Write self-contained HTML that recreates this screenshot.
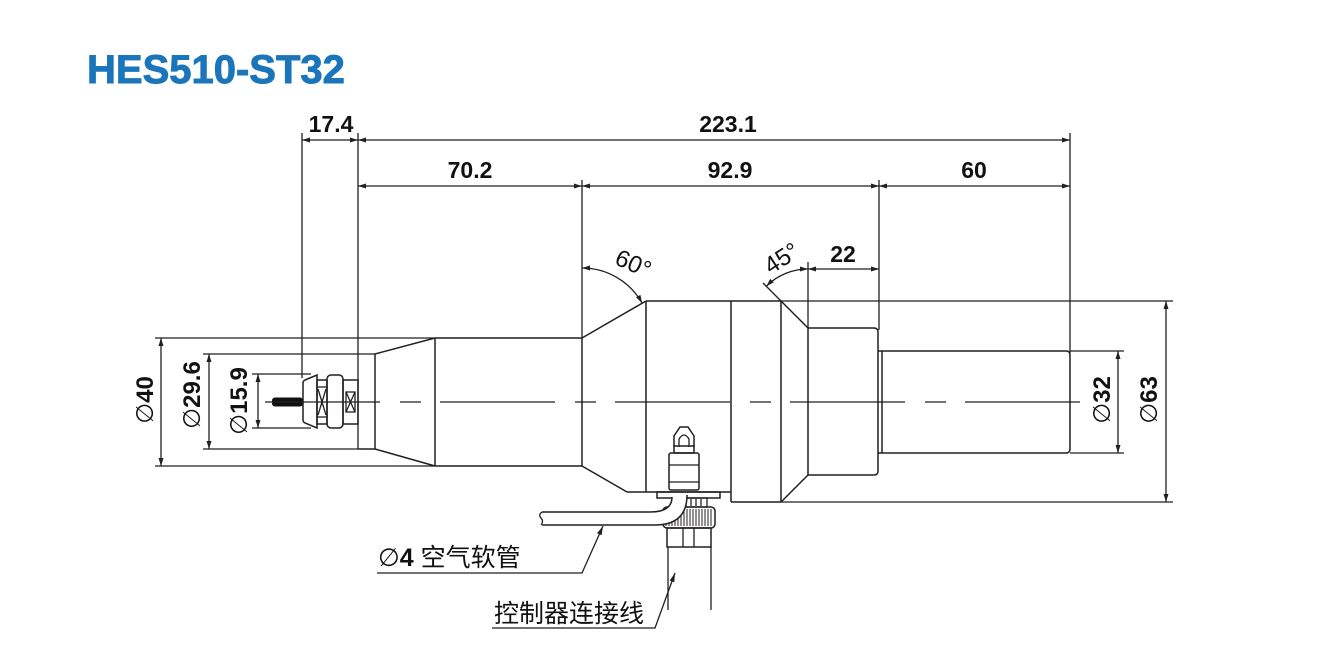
<!DOCTYPE html>
<html>
<head>
<meta charset="utf-8">
<style>
  html,body{margin:0;padding:0;background:#fff;}
  svg{display:block;}
  .l{stroke:#231f20;stroke-width:1.3;fill:none;}
  .o{stroke:#231f20;stroke-width:1.5;fill:none;}
  .a{fill:#231f20;stroke:none;}
  .t{font-family:"Liberation Sans",Arial,sans-serif;font-weight:bold;font-size:23px;fill:#111;}
  .r{font-family:"Liberation Sans",Arial,sans-serif;font-weight:bold;font-size:24px;fill:#111;}
  .ang{font-family:"Liberation Sans",Arial,sans-serif;font-size:24px;fill:#111;}
  .cjk{font-family:"Liberation Sans","Noto Sans CJK SC",sans-serif;font-size:25px;fill:#111;}
  .sym{font-family:"DejaVu Sans",sans-serif;font-weight:normal;}
</style>
</head>
<body>
<svg width="1320" height="660" viewBox="0 0 1320 660" xmlns="http://www.w3.org/2000/svg">
  <rect x="0" y="0" width="1320" height="660" fill="#fff"/>

  <!-- Title -->
  <text x="87" y="83" font-family="Liberation Sans, Arial, sans-serif" font-weight="bold" font-size="40" fill="#1b75bb" stroke="#1b75bb" stroke-width="0.9">HES510-ST32</text>

  <!-- ===== Top dimensions ===== -->
  <line class="l" x1="302" y1="133" x2="302" y2="378"/>
  <line class="l" x1="358" y1="133" x2="358" y2="449"/>
  <line class="l" x1="1070" y1="133" x2="1070" y2="353"/>
  <line class="l" x1="582" y1="180" x2="582" y2="338"/>
  <line class="l" x1="879" y1="180" x2="879" y2="330"/>
  <line class="l" x1="808" y1="262" x2="808" y2="328"/>

  <line class="l" x1="302" y1="140" x2="1070" y2="140"/>
  <polygon class="a" points="302,140 310,137.5 310,142.5"/>
  <polygon class="a" points="358,140 350,137.5 350,142.5"/>
  <polygon class="a" points="358,140 366,137.5 366,142.5"/>
  <polygon class="a" points="1070,140 1062,137.5 1062,142.5"/>
  <text class="t" x="331" y="132" text-anchor="middle">17.4</text>
  <text class="t" x="728" y="132" text-anchor="middle">223.1</text>

  <line class="l" x1="358" y1="186" x2="1070" y2="186"/>
  <polygon class="a" points="358,186 366,183.5 366,188.5"/>
  <polygon class="a" points="582,186 574,183.5 574,188.5"/>
  <polygon class="a" points="582,186 590,183.5 590,188.5"/>
  <polygon class="a" points="879,186 871,183.5 871,188.5"/>
  <polygon class="a" points="879,186 887,183.5 887,188.5"/>
  <polygon class="a" points="1070,186 1062,183.5 1062,188.5"/>
  <text class="t" x="470" y="178" text-anchor="middle">70.2</text>
  <text class="t" x="730" y="178" text-anchor="middle">92.9</text>
  <text class="t" x="974" y="178" text-anchor="middle">60</text>

  <line class="l" x1="808" y1="269" x2="879" y2="269"/>
  <polygon class="a" points="808,269 816,266.5 816,271.5"/>
  <polygon class="a" points="879,269 871,266.5 871,271.5"/>
  <text class="t" x="843" y="262" text-anchor="middle">22</text>

  <path class="l" d="M582,268 A69,69 0 0 1 642.1,303.1"/>
  <polygon class="a" points="582,268 590,265.5 590,270.5"/>
  <polygon class="a" points="642.1,303.1 640.4,294.9 636.0,297.3"/>
  <text class="ang" x="0" y="0" text-anchor="middle" transform="translate(630,271) rotate(24)">60°</text>

  <line class="l" x1="781" y1="301" x2="763" y2="283"/>
  <path class="l" d="M808,269 A59,59 0 0 0 766.3,286.3"/>
  <polygon class="a" points="808,269 800,266.5 800,271.5"/>
  <polygon class="a" points="766.3,286.3 773.7,282.4 770.2,278.9"/>
  <text class="ang" x="0" y="0" text-anchor="middle" transform="translate(786,265) rotate(-33)">45°</text>

  <!-- ===== Body ===== -->
  <line class="o" x1="358" y1="449" x2="375" y2="449"/>
  <line class="o" x1="375" y1="354" x2="375" y2="449"/>
  <line class="o" x1="375" y1="354" x2="435" y2="338"/>
  <line class="o" x1="375" y1="449" x2="435" y2="466"/>
  <line class="o" x1="435" y1="338" x2="435" y2="466"/>
  <line class="o" x1="435" y1="338" x2="582" y2="338"/>
  <line class="o" x1="435" y1="466" x2="582" y2="466"/>
  <line class="o" x1="582" y1="338" x2="582" y2="466"/>
  <line class="o" x1="582" y1="338" x2="646" y2="301"/>
  <line class="o" x1="582" y1="466" x2="627" y2="492"/>
  <line class="o" x1="627" y1="492" x2="731" y2="492"/>
  <line class="o" x1="646" y1="301" x2="646" y2="492"/>
  <line class="o" x1="646" y1="301" x2="781" y2="301"/>
  <line class="o" x1="731" y1="301" x2="731" y2="502"/>
  <line class="o" x1="731" y1="502" x2="781" y2="502"/>
  <line class="o" x1="781" y1="301" x2="781" y2="502"/>
  <line class="o" x1="781" y1="301" x2="808" y2="328"/>
  <line class="o" x1="781" y1="502" x2="808" y2="475"/>
  <path class="o" d="M808,328 H874 Q878,328 878,332 V471 Q878,475 874,475 H808"/>
  <line class="o" x1="808" y1="328" x2="808" y2="475"/>
  <path class="o" d="M878,351 H1066 Q1070,351 1070,355 V449 Q1070,453 1066,453 H878"/>
  <line class="o" x1="882" y1="351" x2="882" y2="453"/>

  <!-- ===== Left connector ===== -->
  <rect x="272" y="397.5" width="31" height="9" rx="3" fill="#111"/>
  <path class="o" d="M305,380 L317,375 L317,428 L305,423 Q303,422 303,420 L303,383 Q303,381 305,380 Z" fill="#fff"/>
  <rect class="o" x="317" y="380" width="10" height="44" fill="#fff"/>
  <line class="l" x1="317" y1="387" x2="327" y2="387"/>
  <line class="l" x1="317" y1="417" x2="327" y2="417"/>
  <line class="l" x1="318" y1="389" x2="326" y2="415"/>
  <line class="l" x1="326" y1="389" x2="318" y2="415"/>
  <rect class="o" x="327" y="375" width="16" height="53" rx="4" fill="#fff"/>
  <rect class="o" x="343" y="380" width="15" height="44" fill="#fff"/>
  <rect class="l" x="346" y="392" width="9" height="20"/>
  <line class="l" x1="346" y1="392" x2="355" y2="412"/>
  <line class="l" x1="355" y1="392" x2="346" y2="412"/>

  <!-- center line -->
  <line x1="265" y1="402" x2="1080" y2="402" stroke="#231f20" stroke-width="1.3" stroke-dasharray="115 20 21 19"/>

  <!-- ===== Left diameter dims ===== -->
  <line class="l" x1="155" y1="338" x2="435" y2="338"/>
  <line class="l" x1="155" y1="466" x2="435" y2="466"/>
  <line class="l" x1="203" y1="354" x2="375" y2="354"/>
  <line class="l" x1="203" y1="449" x2="358" y2="449"/>
  <line class="l" x1="252" y1="374" x2="311" y2="374"/>
  <line class="l" x1="252" y1="428" x2="311" y2="428"/>

  <line class="l" x1="161" y1="338" x2="161" y2="466"/>
  <polygon class="a" points="161,338 158.5,346 163.5,346"/>
  <polygon class="a" points="161,466 158.5,458 163.5,458"/>
  <line class="l" x1="209" y1="354" x2="209" y2="449"/>
  <polygon class="a" points="209,354 206.5,362 211.5,362"/>
  <polygon class="a" points="209,449 206.5,441 211.5,441"/>
  <line class="l" x1="258" y1="374" x2="258" y2="428"/>
  <polygon class="a" points="258,374 255.5,382 260.5,382"/>
  <polygon class="a" points="258,428 255.5,420 260.5,420"/>

  <text class="r" x="0" y="0" text-anchor="middle" transform="translate(153,400) rotate(-90)"><tspan class="sym">∅</tspan>40</text>
  <text class="r" x="0" y="0" text-anchor="middle" transform="translate(200,395) rotate(-90)"><tspan class="sym">∅</tspan>29.6</text>
  <text class="r" x="0" y="0" text-anchor="middle" transform="translate(247,401) rotate(-90)"><tspan class="sym">∅</tspan>15.9</text>

  <!-- ===== Right diameter dims ===== -->
  <line class="l" x1="781" y1="301" x2="1173" y2="301"/>
  <line class="l" x1="781" y1="502" x2="1173" y2="502"/>
  <line class="l" x1="1070" y1="351" x2="1124" y2="351"/>
  <line class="l" x1="1070" y1="453" x2="1124" y2="453"/>
  <line class="l" x1="1118" y1="351" x2="1118" y2="453"/>
  <polygon class="a" points="1118,351 1115.5,359 1120.5,359"/>
  <polygon class="a" points="1118,453 1115.5,445 1120.5,445"/>
  <line class="l" x1="1166" y1="301" x2="1166" y2="502"/>
  <polygon class="a" points="1166,301 1163.5,309 1168.5,309"/>
  <polygon class="a" points="1166,502 1163.5,494 1168.5,494"/>
  <text class="r" x="0" y="0" text-anchor="middle" transform="translate(1110,400) rotate(-90)"><tspan class="sym">∅</tspan>32</text>
  <text class="r" x="0" y="0" text-anchor="middle" transform="translate(1157,400) rotate(-90)"><tspan class="sym">∅</tspan>63</text>

  <!-- ===== Air fitting ===== -->
  <path class="o" d="M674,447 V436 L680,427 H688 L694,436 V447" fill="#fff"/>
  <path class="l" d="M679,447 V439 Q684,431 689,439 V447"/>
  <rect class="o" x="674" y="446" width="20" height="7" fill="#fff"/>
  <rect class="o" x="669" y="453" width="30" height="37" rx="2" fill="#fff"/>
  <line class="l" x1="669" y1="465" x2="699" y2="465"/>
  <line class="l" x1="669" y1="482" x2="699" y2="482"/>
  <rect class="o" x="657" y="492" width="63" height="6" fill="#fff"/>
  <rect class="l" x="672" y="498" width="35" height="9" fill="#fff"/>
  <line class="l" x1="676" y1="499" x2="676" y2="506"/>
  <line class="l" x1="681" y1="499" x2="681" y2="506"/>
  <line class="l" x1="686" y1="499" x2="686" y2="506"/>
  <line class="l" x1="691" y1="499" x2="691" y2="506"/>
  <line class="l" x1="696" y1="499" x2="696" y2="506"/>
  <line class="l" x1="701" y1="499" x2="701" y2="506"/>
  <rect class="o" x="663" y="507" width="52" height="21" rx="4" fill="#fff"/>
  <g stroke="#231f20" stroke-width="1">
    <line x1="666" y1="509" x2="666" y2="526"/><line x1="669" y1="509" x2="669" y2="526"/>
    <line x1="672" y1="509" x2="672" y2="526"/><line x1="675" y1="509" x2="675" y2="526"/>
    <line x1="678" y1="509" x2="678" y2="526"/><line x1="681" y1="509" x2="681" y2="526"/>
    <line x1="684" y1="509" x2="684" y2="526"/><line x1="687" y1="509" x2="687" y2="526"/>
    <line x1="690" y1="509" x2="690" y2="526"/><line x1="693" y1="509" x2="693" y2="526"/>
    <line x1="696" y1="509" x2="696" y2="526"/><line x1="699" y1="509" x2="699" y2="526"/>
    <line x1="702" y1="509" x2="702" y2="526"/><line x1="705" y1="509" x2="705" y2="526"/>
    <line x1="708" y1="509" x2="708" y2="526"/><line x1="711" y1="509" x2="711" y2="526"/>
  </g>
  <rect class="o" x="667" y="528" width="44" height="19" fill="#fff"/>
  <line class="l" x1="683" y1="528" x2="683" y2="547"/>
  <line class="l" x1="694" y1="528" x2="694" y2="547"/>
  <line class="l" x1="668" y1="547" x2="668" y2="610"/>
  <line class="l" x1="711" y1="547" x2="711" y2="610"/>

  <!-- tube -->
  <path d="M542,512 H650 Q672,512 672,497 L687,495 Q687,525 655,525 H542 Z" fill="#fff" stroke="none"/>
  <path class="o" d="M542,512 H650 Q672,512 672,497"/>
  <path class="o" d="M542,525 H655 Q687,525 687,495"/>
  <path class="l" d="M542,512 Q538,515 541,518 Q544,521 541,525"/>

  <!-- ===== Leaders ===== -->
  <polyline class="l" points="603,526 582,573 377,573"/>
  <polygon class="a" points="603,526 601.6,535.2 597.0,533.2"/>
  <text class="cjk" x="378" y="566"><tspan font-weight="bold" class="sym">∅</tspan><tspan font-weight="bold">4</tspan> 空气软管</text>

  <polyline class="l" points="675,573 655,628 492,628"/>
  <polygon class="a" points="675,573 674.3,582.3 669.6,580.6"/>
  <text class="cjk" x="494" y="622">控制器连接线</text>
</svg>
</body>
</html>
